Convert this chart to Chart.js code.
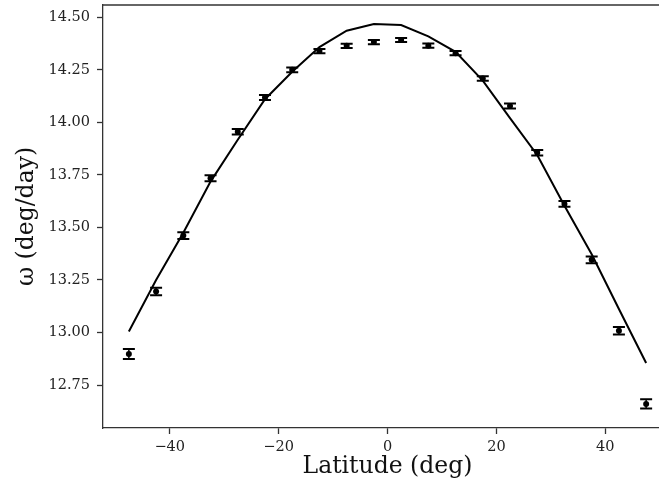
<!DOCTYPE html>
<html>
<head>
<meta charset="utf-8">
<script src="https://cdn.jsdelivr.net/npm/chart.js@4/dist/chart.umd.min.js"></script>
<style>
  html, body { margin: 0; padding: 0; background: #fff; overflow: hidden; }
  #wrap { position: relative; width: 700px; height: 489px; }
</style>
</head>
<body>
<div id="wrap"><canvas id="rotChart"></canvas></div>
<script>
// Dados
const latitudes = [-47.5, -42.5, -37.5, -32.5, -27.5, -22.5, -17.5, -12.5, -7.5, -2.5,
                   2.5, 7.5, 12.5, 17.5, 22.5, 27.5, 32.5, 37.5, 42.5, 47.5];
const omegaObs = [12.898, 13.195, 13.461, 13.734, 13.955, 14.118, 14.250, 14.339, 14.364, 14.382,
                  14.392, 14.365, 14.329, 14.209, 14.078, 13.855, 13.612, 13.346, 13.008, 12.660];
const omegaErr = [0.024, 0.018, 0.016, 0.014, 0.013, 0.012, 0.011, 0.010, 0.010, 0.010,
                  0.010, 0.010, 0.010, 0.011, 0.012, 0.013, 0.014, 0.016, 0.018, 0.022];
const omegaModel = [13.005, 13.250, 13.475, 13.718, 13.917, 14.110, 14.241, 14.358, 14.436, 14.468,
                    14.463, 14.409, 14.336, 14.199, 14.020, 13.845, 13.603, 13.372, 13.112, 12.855];
const xTicks = [-40, -20, 0, 20, 40];
const yTicks = [12.75, 13.00, 13.25, 13.50, 13.75, 14.00, 14.25, 14.50];

const fonteSerif = 'DejaVu Serif';
const corEixo = '#333333';

// Barras de erro e moldura superior
const errorBarPlugin = {
    id: 'errorBars',
    afterDatasetsDraw(chart) {
        const { ctx, scales: { x, y } } = chart;
        ctx.save();
        ctx.strokeStyle = '#000';
        latitudes.forEach((lat, i) => {
            const px = x.getPixelForValue(lat);
            const yTop = y.getPixelForValue(omegaObs[i] + omegaErr[i]);
            const yBot = y.getPixelForValue(omegaObs[i] - omegaErr[i]);
            ctx.lineWidth = 1.5;
            ctx.beginPath();
            ctx.moveTo(px, yTop); ctx.lineTo(px, yBot);
            ctx.stroke();
            ctx.lineWidth = 2;
            ctx.beginPath();
            ctx.moveTo(px - 6, yTop); ctx.lineTo(px + 6, yTop);
            ctx.moveTo(px - 6, yBot); ctx.lineTo(px + 6, yBot);
            ctx.stroke();
        });
        // so a linha de cima; a direita fica fora da imagem
        const area = chart.chartArea;
        ctx.strokeStyle = corEixo;
        ctx.lineWidth = 1.3;
        ctx.beginPath();
        ctx.moveTo(area.left, area.top);
        ctx.lineTo(area.right, area.top);
        ctx.stroke();
        ctx.restore();
    }
};

const ctx = document.getElementById('rotChart').getContext('2d');
new Chart(ctx, {
    type: 'scatter',
    data: {
        datasets: [
            {
                label: 'modelo',
                data: latitudes.map((lat, i) => ({ x: lat, y: omegaModel[i] })),
                showLine: true,
                borderColor: '#000',
                borderWidth: 2,
                pointRadius: 0,
                tension: 0
            },
            {
                label: 'observado',
                data: latitudes.map((lat, i) => ({ x: lat, y: omegaObs[i] })),
                showLine: false,
                pointRadius: 3,
                pointBackgroundColor: '#000',
                pointBorderWidth: 0
            }
        ]
    },
    options: {
        responsive: true,
        maintainAspectRatio: false,
        animation: false,
        layout: { padding: { top: 5, right: 28, bottom: 0, left: 0 } },
        plugins: { legend: { display: false }, tooltip: { enabled: false } },
        scales: {
            x: {
                type: 'linear',
                min: -52.25,
                max: 52.25,
                afterBuildTicks: s => { s.ticks = xTicks.map(v => ({ value: v })); },
                afterFit: s => { s.height = 61; s.paddingLeft = 0; s.paddingRight = 0; },
                border: { display: true, color: corEixo, width: 1.3 },
                grid: { drawOnChartArea: false, drawTicks: true, tickLength: 6, tickColor: corEixo, tickWidth: 1.3 },
                ticks: {
                    color: '#222',
                    padding: 5,
                    maxRotation: 0,
                    font: { family: fonteSerif, size: 14.5 },
                    callback: v => String(v).replace('-', '\u2212')
                },
                title: {
                    display: true,
                    text: 'Latitude (deg)',
                    color: '#111',
                    padding: { top: 0, bottom: 8 },
                    font: { family: fonteSerif, size: 23.5 }
                }
            },
            y: {
                type: 'linear',
                min: 12.5455,
                max: 14.5585,
                afterBuildTicks: s => { s.ticks = yTicks.map(v => ({ value: v })); },
                afterFit: s => { s.width = 103; s.paddingTop = 0; s.paddingBottom = 0; },
                border: { display: true, color: corEixo, width: 1.3 },
                grid: { drawOnChartArea: false, drawTicks: true, tickLength: 6, tickColor: corEixo, tickWidth: 1.3 },
                ticks: {
                    color: '#222',
                    padding: 7,
                    font: { family: fonteSerif, size: 14.5 },
                    callback: v => v.toFixed(2)
                },
                title: {
                    display: true,
                    text: 'ω (deg/day)',
                    color: '#111',
                    padding: { top: 13, bottom: 0 },
                    font: { family: fonteSerif, size: 23.5 }
                }
            }
        }
    },
    plugins: [errorBarPlugin]
});
</script>
</body>
</html>
